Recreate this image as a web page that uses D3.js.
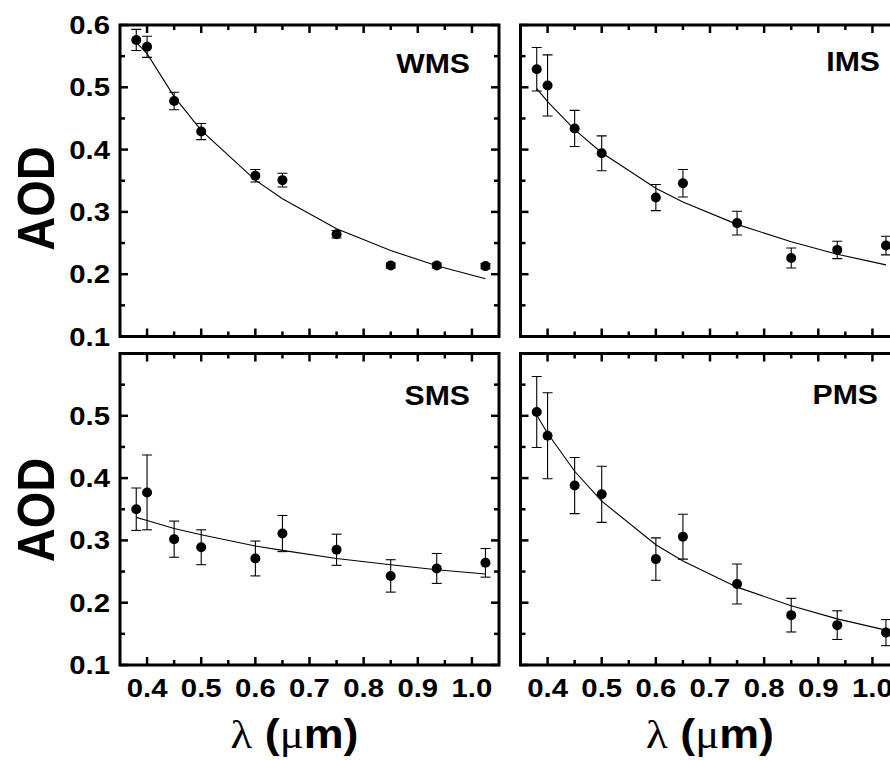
<!DOCTYPE html>
<html>
<head>
<meta charset="utf-8">
<script src="https://cdn.jsdelivr.net/npm/d3@7"></script>
<style>
  html, body { margin: 0; padding: 0; background: #fff; }
  svg { display: block; }
</style>
</head>
<body>
<svg id="chart" width="890" height="760"></svg>
<script>
// ---------- data ----------
const wavelengths = [0.38, 0.40, 0.45, 0.50, 0.60, 0.65, 0.75, 0.85, 0.935, 1.025];

const wmsAOD = [0.576, 0.565, 0.478, 0.429, 0.358, 0.351, 0.264, 0.214, 0.214, 0.213];
const wmsErr = [0.017, 0.017, 0.014, 0.013, 0.010, 0.011, 0.006, 0.004, 0.004, 0.004];
const wmsFit = [0.572, 0.554, 0.485, 0.431, 0.351, 0.321, 0.273, 0.238, 0.2135, 0.1926];

const imsAOD = [0.529, 0.503, 0.434, 0.394, 0.323, 0.346, 0.282, 0.226, 0.239, 0.246];
const imsErr = [0.035, 0.049, 0.029, 0.028, 0.021, 0.022, 0.019, 0.016, 0.014, 0.015];
const imsFit = [0.498, 0.477, 0.432, 0.395, 0.338, 0.316, 0.280, 0.252, 0.232, 0.215];

const smsAOD = [0.350, 0.377, 0.302, 0.289, 0.271, 0.311, 0.285, 0.243, 0.255, 0.264];
const smsErr = [0.034, 0.060, 0.029, 0.028, 0.028, 0.029, 0.025, 0.026, 0.024, 0.023];
const smsFit = [0.337, 0.332, 0.319, 0.309, 0.291, 0.284, 0.271, 0.261, 0.253, 0.246];

const pmsAOD = [0.506, 0.468, 0.388, 0.374, 0.270, 0.306, 0.230, 0.180, 0.164, 0.152];
const pmsErr = [0.057, 0.069, 0.045, 0.045, 0.034, 0.036, 0.032, 0.027, 0.023, 0.021];
const pmsFit = [0.501, 0.472, 0.411, 0.363, 0.293, 0.267, 0.225, 0.195, 0.174, 0.156];

const panelNames = ["WMS", "IMS", "SMS", "PMS"];

const xMajorTicks = [0.4, 0.5, 0.6, 0.7, 0.8, 0.9, 1.0];
const xMinorTicks = [0.45, 0.55, 0.65, 0.75, 0.85, 0.95];
const xTickLabels = ["0.4", "0.5", "0.6", "0.7", "0.8", "0.9", "1.0"];
const yMajorTicks = [0.1, 0.2, 0.3, 0.4, 0.5, 0.6];
const yMinorTicks = [0.15, 0.25, 0.35, 0.45, 0.55];
const yTickLabelsTop = ["0.1", "0.2", "0.3", "0.4", "0.5", "0.6"];
const yTickLabelsBottom = ["0.1", "0.2", "0.3", "0.4", "0.5"];

const yTitle = "AOD";

// ---------- layout ----------
const W = 379, H = 311.5;
const panels = [
  { name: panelNames[0], aod: wmsAOD, err: wmsErr, fit: wmsFit, left: 120,   top: 25,    yLabels: yTickLabelsTop,    xLabels: false, lx: 470, ly: 73 },
  { name: panelNames[1], aod: imsAOD, err: imsErr, fit: imsFit, left: 520.5, top: 25,    yLabels: null,              xLabels: false, lx: 880, ly: 71 },
  { name: panelNames[2], aod: smsAOD, err: smsErr, fit: smsFit, left: 120,   top: 353.5, yLabels: yTickLabelsBottom, xLabels: true,  lx: 470, ly: 405 },
  { name: panelNames[3], aod: pmsAOD, err: pmsErr, fit: pmsFit, left: 520.5, top: 353.5, yLabels: null,              xLabels: true,  lx: 878, ly: 404 }
];

const svg = d3.select("#chart");
const x = d3.scaleLinear().domain([0.35, 1.05]).range([0, W]);
const y = d3.scaleLinear().domain([0.1, 0.6]).range([H, 0]);

const sans = "'Liberation Sans', Arial, Helvetica, sans-serif";
const serif = "'Liberation Serif', 'Times New Roman', serif";

panels.forEach((p, pi) => {
  const g = svg.append("g").attr("transform", `translate(${p.left},${p.top})`);

  const clipId = "clip" + pi;
  g.append("clipPath").attr("id", clipId)
    .append("rect").attr("x", 0).attr("y", 0).attr("width", W).attr("height", H);

  // ticks (inward on all four sides)
  const tickG = g.append("g").attr("stroke", "#000").attr("stroke-linecap", "butt");
  const drawX = (vals, len, sw) => {
    vals.forEach(v => {
      tickG.append("line").attr("x1", x(v)).attr("x2", x(v)).attr("y1", H).attr("y2", H - len).attr("stroke-width", sw);
      tickG.append("line").attr("x1", x(v)).attr("x2", x(v)).attr("y1", 0).attr("y2", len).attr("stroke-width", sw);
    });
  };
  const drawY = (vals, len, sw) => {
    vals.forEach(v => {
      tickG.append("line").attr("y1", y(v)).attr("y2", y(v)).attr("x1", 0).attr("x2", len).attr("stroke-width", sw);
      tickG.append("line").attr("y1", y(v)).attr("y2", y(v)).attr("x1", W).attr("x2", W - len).attr("stroke-width", sw);
    });
  };
  drawX(xMajorTicks, 8, 2.5);
  drawX(xMinorTicks, 5, 2.5);
  drawY(yMajorTicks, 8, 2.5);
  drawY(yMinorTicks, 5, 2.5);

  const data = wavelengths.map((w, i) => ({ w, v: p.aod[i], e: p.err[i], f: p.fit[i] }));
  const plot = g.append("g").attr("clip-path", `url(#${clipId})`);

  // fit line
  const line = d3.line().x(d => x(d.w)).y(d => y(d.f)).defined(d => d.f != null);
  plot.append("path").datum(data).attr("d", line)
    .attr("fill", "none").attr("stroke", "#000").attr("stroke-width", 1.1);

  // error bars
  const eb = plot.append("g").attr("stroke", "#000").attr("stroke-width", 1.1);
  data.forEach(d => {
    const cx = x(d.w), y1 = y(d.v - d.e), y2 = y(d.v + d.e);
    eb.append("line").attr("x1", cx).attr("x2", cx).attr("y1", y1).attr("y2", y2);
    eb.append("line").attr("x1", cx - 5).attr("x2", cx + 5).attr("y1", y1).attr("y2", y1);
    eb.append("line").attr("x1", cx - 5).attr("x2", cx + 5).attr("y1", y2).attr("y2", y2);
  });

  // markers
  plot.selectAll("circle.pt").data(data).enter().append("circle")
    .attr("class", "pt").attr("cx", d => x(d.w)).attr("cy", d => y(d.v)).attr("r", 5).attr("fill", "#000");

  // frame
  g.append("rect").attr("x", 0).attr("y", 0).attr("width", W).attr("height", H)
    .attr("fill", "none").attr("stroke", "#000").attr("stroke-width", 3);

  // y tick labels
  if (p.yLabels) {
    p.yLabels.forEach((lab, i) => {
      g.append("text")
        .attr("transform", `translate(-10,${y(yMajorTicks[i]) + 9}) scale(1.15,1)`)
        .attr("text-anchor", "end")
        .attr("font-family", sans).attr("font-weight", "bold").attr("font-size", 25.5)
        .attr("fill", "#000").text(lab);
    });
  }
  // x tick labels
  if (p.xLabels) {
    xTickLabels.forEach((lab, i) => {
      g.append("text")
        .attr("transform", `translate(${x(xMajorTicks[i])},${H + 31.5}) scale(1.15,1)`)
        .attr("text-anchor", "middle")
        .attr("font-family", sans).attr("font-weight", "bold").attr("font-size", 25.5)
        .attr("fill", "#000").text(lab);
    });
  }

  // panel label
  svg.append("text")
    .attr("transform", `translate(${p.lx},${p.ly}) scale(1.06,1)`)
    .attr("text-anchor", "end")
    .attr("font-family", sans).attr("font-weight", "bold").attr("font-size", 28.5)
    .attr("fill", "#000").text(p.name);
});

// y titles
[198.5, 510].forEach(cy => {
  svg.append("text")
    .attr("transform", `translate(53.5,${cy}) scale(1.1,1) rotate(-90)`)
    .attr("text-anchor", "middle")
    .attr("font-family", sans).attr("font-weight", "bold").attr("font-size", 47)
    .attr("fill", "#000").text(yTitle);
});

// x titles: λ (μm)
[294.5, 710].forEach(cx => {
  const t = svg.append("text")
    .attr("transform", `translate(${cx},748) scale(1.12,1)`)
    .attr("text-anchor", "middle")
    .attr("font-size", 40).attr("fill", "#000");
  t.append("tspan").attr("font-family", serif).text("λ");
  t.append("tspan").attr("font-family", sans).attr("font-weight", "bold").text(" (");
  t.append("tspan").attr("font-family", serif).text("μ");
  t.append("tspan").attr("font-family", sans).attr("font-weight", "bold").text("m)");
});
</script>
</body>
</html>
